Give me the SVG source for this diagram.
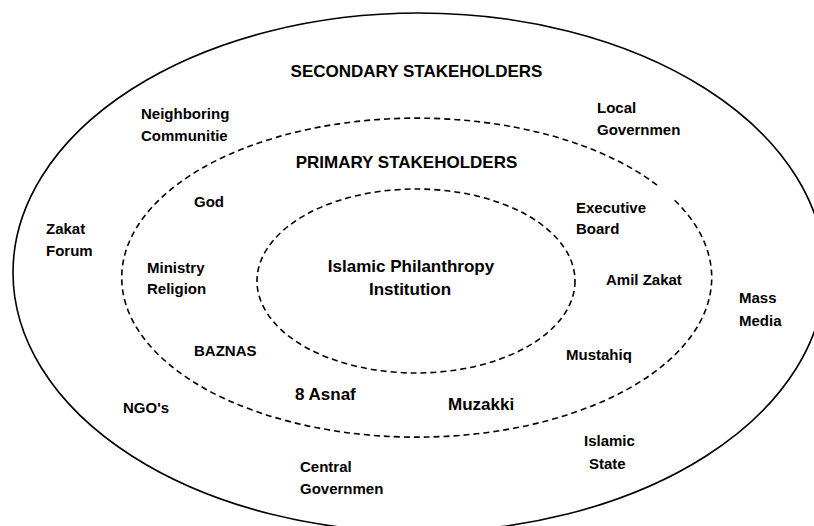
<svg xmlns="http://www.w3.org/2000/svg" width="814" height="526" viewBox="0 0 814 526">
  <style>
    .ring { fill: none; stroke: #000; }
    .outer { stroke-width: 1.6; }
    .dash { stroke-width: 1.6; stroke-dasharray: 6 4; }
    text { font-family: "Liberation Sans", Arial, sans-serif; font-weight: bold; fill: #000; }
    .head { font-size: 17px; }
    .lbl { font-size: 15px; }
    .big { font-size: 17px; }
  </style>
  <rect width="814" height="526" fill="#fff"/>

  <!-- concentric stakeholder rings -->
  <g id="rings">
    <ellipse id="secondary-ring" class="ring outer" cx="419" cy="272.5" rx="406" ry="259.5"/>
    <path id="primary-ring" class="ring dash" d="M 657,185.1 A 295 159.5 0 1 0 672,197.7"/>
    <ellipse id="core-ring" class="ring dash" cx="416" cy="281" rx="159" ry="92"/>
  </g>

  <g id="headings">
    <text class="head" x="416.5" y="77" text-anchor="middle">SECONDARY STAKEHOLDERS</text>
    <text class="head" x="406.5" y="167.5" text-anchor="middle">PRIMARY STAKEHOLDERS</text>
  </g>

  <g id="core">
    <text class="big" x="411" y="271.5" text-anchor="middle">Islamic Philanthropy</text>
    <text class="big" x="410" y="294.5" text-anchor="middle">Institution</text>
  </g>

  <!-- primary stakeholders -->
  <g id="god"><text class="lbl" x="194" y="207">God</text></g>
  <g id="ministry-religion">
    <text class="lbl" x="147" y="273">Ministry</text>
    <text class="lbl" x="147" y="294">Religion</text>
  </g>
  <g id="baznas"><text class="lbl" x="194" y="356">BAZNAS</text></g>
  <g id="asnaf"><text class="big" x="295" y="400">8 Asnaf</text></g>
  <g id="muzakki"><text class="big" x="448" y="409.5">Muzakki</text></g>
  <g id="mustahiq"><text class="lbl" x="566" y="360">Mustahiq</text></g>
  <g id="amil-zakat"><text class="lbl" x="606" y="284.5">Amil Zakat</text></g>
  <g id="executive-board">
    <text class="lbl" x="576" y="212.5">Executive</text>
    <text class="lbl" x="576" y="233.5">Board</text>
  </g>

  <!-- secondary stakeholders -->
  <g id="neighboring-communitie">
    <text class="lbl" x="141" y="119">Neighboring</text>
    <text class="lbl" x="141" y="140.5">Communitie</text>
  </g>
  <g id="local-governmen">
    <text class="lbl" x="597" y="112.5">Local</text>
    <text class="lbl" x="597" y="135">Governmen</text>
  </g>
  <g id="zakat-forum">
    <text class="lbl" x="46" y="233.5">Zakat</text>
    <text class="lbl" x="46" y="256">Forum</text>
  </g>
  <g id="mass-media">
    <text class="lbl" x="739" y="302.5">Mass</text>
    <text class="lbl" x="739" y="325.5">Media</text>
  </g>
  <g id="ngos"><text class="lbl" x="123" y="412.5">NGO's</text></g>
  <g id="islamic-state">
    <text class="lbl" x="584" y="445.5">Islamic</text>
    <text class="lbl" x="589" y="468.5">State</text>
  </g>
  <g id="central-governmen">
    <text class="lbl" x="300" y="471.5">Central</text>
    <text class="lbl" x="300" y="493.5">Governmen</text>
  </g>
</svg>
